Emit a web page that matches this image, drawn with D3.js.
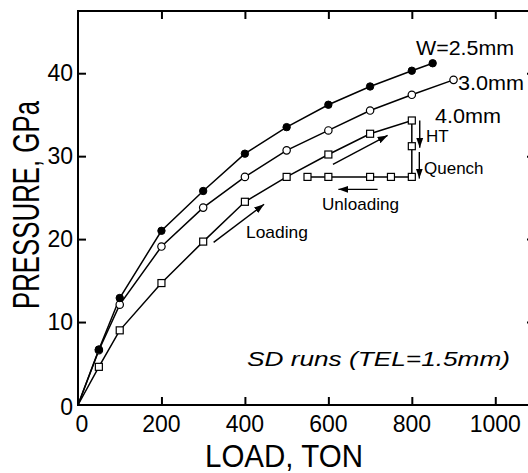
<!DOCTYPE html>
<html><head><meta charset="utf-8">
<script src="https://cdn.jsdelivr.net/npm/d3@7/dist/d3.min.js"></script>
<style>
html,body{margin:0;padding:0;background:#fff;}
svg{display:block;font-family:"Liberation Sans",Arial,Helvetica,sans-serif;}
</style></head>
<body>
<svg id="chart" width="528" height="473"></svg>
<script>
// ---- data ----
const load25 = [0, 50, 100, 200, 300, 400, 500, 600, 700, 800, 850];
const pres25 = [0, 6.7, 12.9, 21.0, 25.8, 30.3, 33.5, 36.2, 38.4, 40.3, 41.2];
const load30 = [0, 50, 100, 200, 300, 400, 500, 600, 700, 800, 900];
const pres30 = [0, 6.6, 12.1, 19.1, 23.8, 27.5, 30.7, 33.1, 35.5, 37.4, 39.2];
const load40 = [0, 50, 100, 200, 300, 400, 500, 600, 700, 800, 800, 800, 750, 700, 600, 550];
const pres40 = [0, 4.6, 9.0, 14.7, 19.7, 24.5, 27.5, 30.2, 32.7, 34.3, 31.2, 27.5, 27.5, 27.5, 27.5, 27.5];
const xTicks = [0, 200, 400, 600, 800, 1000];
const yTicks = [0, 10, 20, 30, 40];
const xTitle = "LOAD, TON";
const yTitle = "PRESSURE, GPa";
const curveLabels = ["W=2.5mm", "3.0mm", "4.0mm"];
const noteTexts = ["HT", "Quench", "Unloading", "Loading", "SD runs (TEL=1.5mm)"];

(function () {
const svg = d3.select("#chart");
const x = d3.scaleLinear().domain([0, 1100]).range([78, 537]);
const y = d3.scaleLinear().domain([0, 47.5]).range([405, 11]);

svg.append("defs").append("marker")
  .attr("id", "ah").attr("viewBox", "0 0 10 10").attr("refX", 10).attr("refY", 5)
  .attr("markerWidth", 10).attr("markerHeight", 10).attr("markerUnits", "userSpaceOnUse")
  .attr("orient", "auto")
  .append("path").attr("d", "M0,1.5 L10,5 L0,8.5 Z").attr("fill", "#000");

const g = svg.append("g");
g.append("rect").attr("x", x(0)).attr("y", y(47.5)).attr("width", x(1100) - x(0)).attr("height", y(0) - y(47.5))
  .attr("fill", "none").attr("stroke", "#000").attr("stroke-width", 2);

const tk = 8;
const axB = d3.axisBottom(x).tickValues(xTicks.slice(1)).tickSize(-tk).tickFormat("");
const axT = d3.axisTop(x).tickValues(xTicks.slice(1)).tickSize(-tk).tickFormat("");
const axL = d3.axisLeft(y).tickValues(yTicks.slice(1)).tickSize(-tk).tickFormat("");
const axR = d3.axisRight(y).tickValues(yTicks.slice(1)).tickSize(-(tk + 2)).tickFormat("");
[[axB, `translate(0,${y(0)})`], [axT, `translate(0,${y(47.5)})`],
 [axL, `translate(${x(0)},0)`], [axR, `translate(${x(1100)},0)`]].forEach(([ax, tr]) => {
  const a = g.append("g").attr("transform", tr).call(ax);
  a.select(".domain").remove();
  a.selectAll("line").attr("stroke", "#000").attr("stroke-width", 2);
});

svg.append("g").selectAll("text").data(xTicks).join("text")
  .attr("x", d => x(d) + (d === 0 ? 4 : 0)).attr("y", 432)
  .attr("text-anchor", "middle").attr("font-size", 23).text(d => d);
svg.append("g").selectAll("text").data(yTicks).join("text")
  .attr("x", 73).attr("y", d => y(d) + 8 + (d === 0 ? 2 : 0))
  .attr("text-anchor", "end").attr("font-size", 23).text(d => d);

svg.append("text").attr("x", 284).attr("y", 467).attr("text-anchor", "middle")
  .attr("font-size", 32).attr("textLength", 158).attr("lengthAdjust", "spacingAndGlyphs").text(xTitle);
svg.append("text").attr("transform", "translate(39,205) rotate(-90)").attr("text-anchor", "middle")
  .attr("font-size", 36).attr("textLength", 208).attr("lengthAdjust", "spacingAndGlyphs").text(yTitle);

const line = d3.line().x(d => x(d[0])).y(d => y(d[1]));
const s25 = d3.zip(load25, pres25), s30 = d3.zip(load30, pres30), s40 = d3.zip(load40, pres40);
[s40, s30, s25].forEach(s => svg.append("path").datum(s).attr("d", line)
  .attr("fill", "none").attr("stroke", "#000").attr("stroke-width", 1.5));

svg.append("g").selectAll("rect").data(s40.slice(1)).join("rect")
  .attr("x", d => x(d[0]) - 3.5).attr("y", d => y(d[1]) - 3.5).attr("width", 7).attr("height", 7)
  .attr("fill", "#fff").attr("stroke", "#000").attr("stroke-width", 1.2);
svg.append("g").selectAll("circle").data(s30.slice(1)).join("circle")
  .attr("cx", d => x(d[0])).attr("cy", d => y(d[1])).attr("r", 3.7)
  .attr("fill", "#fff").attr("stroke", "#000").attr("stroke-width", 1.2);
svg.append("g").selectAll("circle").data(s25.slice(1)).join("circle")
  .attr("cx", d => x(d[0])).attr("cy", d => y(d[1])).attr("r", 3.7)
  .attr("fill", "#000").attr("stroke", "#000").attr("stroke-width", 1);

svg.append("text").attr("x", 416).attr("y", 55).attr("font-size", 20).attr("textLength", 98).attr("lengthAdjust", "spacingAndGlyphs").text(curveLabels[0]);
svg.append("text").attr("x", 458).attr("y", 90).attr("font-size", 20).attr("textLength", 66).attr("lengthAdjust", "spacingAndGlyphs").text(curveLabels[1]);
svg.append("text").attr("x", 435).attr("y", 123).attr("font-size", 20).attr("textLength", 66).attr("lengthAdjust", "spacingAndGlyphs").text(curveLabels[2]);

const arrows = [
  [[819, 34.3], [819, 31.0]],
  [[818, 30.5], [818, 27.3]],
  [[718, 26.0], [624, 26.0]],
  [[611, 29.0], [742, 32.5]],
  [[325, 19.6], [446, 24.2]]
];
svg.append("g").selectAll("line").data(arrows).join("line")
  .attr("x1", d => x(d[0][0])).attr("y1", d => y(d[0][1]))
  .attr("x2", d => x(d[1][0])).attr("y2", d => y(d[1][1]))
  .attr("stroke", "#000").attr("stroke-width", 1.4).attr("marker-end", "url(#ah)");

svg.append("text").attr("x", 426).attr("y", 142).attr("font-size", 17).text(noteTexts[0]);
svg.append("text").attr("x", 424).attr("y", 174).attr("font-size", 17).text(noteTexts[1]);
svg.append("text").attr("x", 322).attr("y", 210).attr("font-size", 17).attr("textLength", 77).attr("lengthAdjust", "spacingAndGlyphs").text(noteTexts[2]);
svg.append("text").attr("x", 246).attr("y", 238).attr("font-size", 17).attr("textLength", 62).attr("lengthAdjust", "spacingAndGlyphs").text(noteTexts[3]);
svg.append("text").attr("x", 247).attr("y", 366).attr("font-size", 21).attr("font-style", "italic")
  .attr("textLength", 263).attr("lengthAdjust", "spacingAndGlyphs").text(noteTexts[4]);
})();
</script>
</body></html>
